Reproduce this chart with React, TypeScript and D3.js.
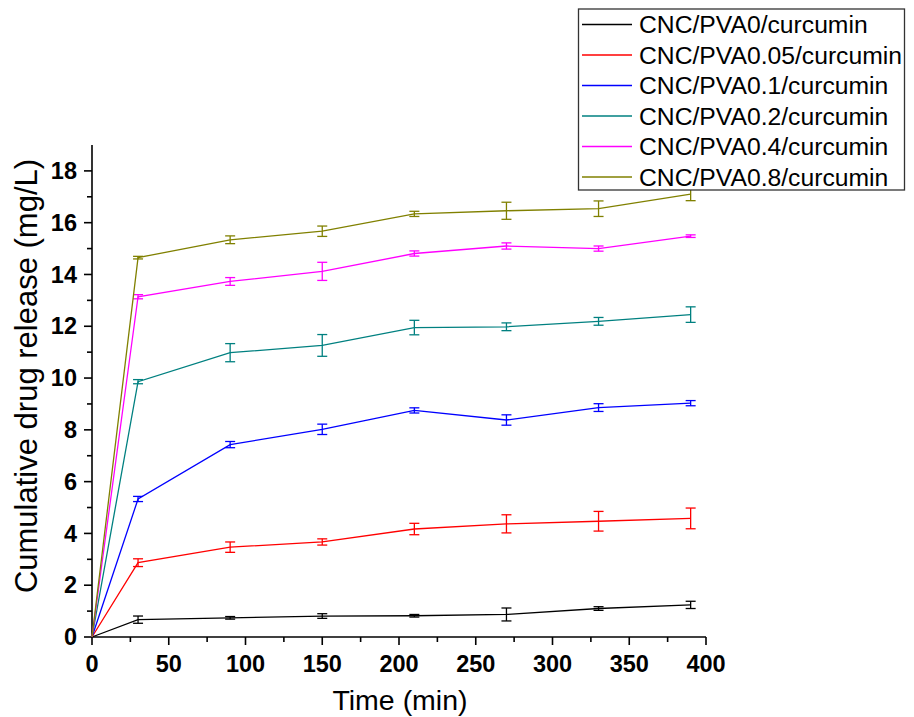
import React from "react";
import * as d3 from "d3";

const times = [0, 30, 90, 150, 210, 270, 330, 390];
const seriesNames = [
  "CNC/PVA0/curcumin",
  "CNC/PVA0.05/curcumin",
  "CNC/PVA0.1/curcumin",
  "CNC/PVA0.2/curcumin",
  "CNC/PVA0.4/curcumin",
  "CNC/PVA0.8/curcumin",
];
const seriesColors = ["#000000", "#ff0000", "#0000ff", "#008080", "#ff00ff", "#808000"];
const pva0 = [0, 0.67, 0.74, 0.81, 0.82, 0.87, 1.1, 1.24];
const pva0Err = [0, 0.14, 0.05, 0.09, 0.05, 0.25, 0.07, 0.14];
const pva005 = [0, 2.87, 3.47, 3.67, 4.17, 4.37, 4.47, 4.58];
const pva005Err = [0, 0.15, 0.2, 0.12, 0.22, 0.35, 0.38, 0.4];
const pva01 = [0, 5.33, 7.43, 8.02, 8.75, 8.38, 8.86, 9.03];
const pva01Err = [0, 0.1, 0.12, 0.2, 0.1, 0.2, 0.15, 0.1];
const pva02 = [0, 9.86, 10.98, 11.26, 11.95, 11.98, 12.19, 12.45];
const pva02Err = [0, 0.08, 0.35, 0.42, 0.28, 0.15, 0.15, 0.3];
const pva04 = [0, 13.14, 13.73, 14.12, 14.81, 15.1, 15.0, 15.48];
const pva04Err = [0, 0.08, 0.15, 0.35, 0.1, 0.12, 0.1, 0.05];
const pva08 = [0, 14.65, 15.34, 15.67, 16.34, 16.46, 16.54, 17.1];
const pva08Err = [0, 0.05, 0.15, 0.2, 0.1, 0.33, 0.3, 0.25];

const seriesValues = [pva0, pva005, pva01, pva02, pva04, pva08];
const seriesErrors = [pva0Err, pva005Err, pva01Err, pva02Err, pva04Err, pva08Err];

const xMajor = [0, 50, 100, 150, 200, 250, 300, 350, 400];
const yMajor = [0, 2, 4, 6, 8, 10, 12, 14, 16, 18];

export default function App() {
  const W = 914, H = 717;
  const x = d3.scaleLinear().domain([0, 400]).range([92, 706]);
  const y = d3.scaleLinear().domain([0, 19]).range([637, 145]);
  const line = d3
    .line<number>()
    .x((_, i) => x(times[i]))
    .y((v) => y(v));
  const xMinor = d3.range(0, 401, 25).filter((v) => v % 50 !== 0);
  const yMinor = d3.range(1, 19, 2);
  const font = "'Liberation Sans', Arial, sans-serif";
  const legY = (i: number) => 24.5 + i * 30.5;
  return (
    <svg width={W} height={H} style={{ position: "absolute", left: 0, top: 0 }} fontFamily={font}>
      <rect width={W} height={H} fill="#fff" />
      {/* axes */}
      <g stroke="#000" strokeWidth={1.6} fill="none">
        <line x1={x(0)} x2={x(400)} y1={y(0)} y2={y(0)} />
        <line x1={x(0)} x2={x(0)} y1={y(0)} y2={y(19)} />
        {xMajor.map((v) => (
          <line key={"xm" + v} x1={x(v)} x2={x(v)} y1={y(0)} y2={y(0) + 8} />
        ))}
        {xMinor.map((v) => (
          <line key={"xn" + v} x1={x(v)} x2={x(v)} y1={y(0)} y2={y(0) + 5} />
        ))}
        {yMajor.map((v) => (
          <line key={"ym" + v} x1={x(0) - 8} x2={x(0)} y1={y(v)} y2={y(v)} />
        ))}
        {yMinor.map((v) => (
          <line key={"yn" + v} x1={x(0) - 5} x2={x(0)} y1={y(v)} y2={y(v)} />
        ))}
      </g>
      {xMajor.map((v) => (
        <text key={"xl" + v} x={x(v)} y={672} textAnchor="middle" fontSize={23.5} fontWeight="bold">
          {v}
        </text>
      ))}
      {yMajor.map((v) => (
        <text key={"yl" + v} x={77} y={y(v) + 8.2} textAnchor="end" fontSize={23.5} fontWeight="bold">
          {v}
        </text>
      ))}
      <text x={400} y={710} textAnchor="middle" fontSize={28.5}>
        Time (min)
      </text>
      <text transform={`translate(37,376) rotate(-90)`} textAnchor="middle" fontSize={31}>
        Cumulative drug release (mg/L)
      </text>
      {/* series */}
      {seriesValues.map((vals, si) => (
        <g key={"s" + si} stroke={seriesColors[si]} fill="none" strokeWidth={1.3}>
          <path d={line(vals) || ""} />
          {vals.map((v, i) =>
            i === 0 ? null : (
              <g key={i}>
                <line x1={x(times[i])} x2={x(times[i])} y1={y(v - seriesErrors[si][i])} y2={y(v + seriesErrors[si][i])} />
                <line x1={x(times[i]) - 5} x2={x(times[i]) + 5} y1={y(v - seriesErrors[si][i])} y2={y(v - seriesErrors[si][i])} />
                <line x1={x(times[i]) - 5} x2={x(times[i]) + 5} y1={y(v + seriesErrors[si][i])} y2={y(v + seriesErrors[si][i])} />
              </g>
            )
          )}
        </g>
      ))}
      {/* legend */}
      <rect x={578.5} y={9} width={326} height={181} fill="#fff" stroke="#333" strokeWidth={1.3} />
      {seriesNames.map((n, i) => (
        <g key={"lg" + i}>
          <line x1={582} x2={632} y1={legY(i)} y2={legY(i)} stroke={seriesColors[i]} strokeWidth={1.3} />
          <text x={639} y={legY(i) + 8.8} fontSize={24.7}>
            {n}
          </text>
        </g>
      ))}
    </svg>
  );
}
